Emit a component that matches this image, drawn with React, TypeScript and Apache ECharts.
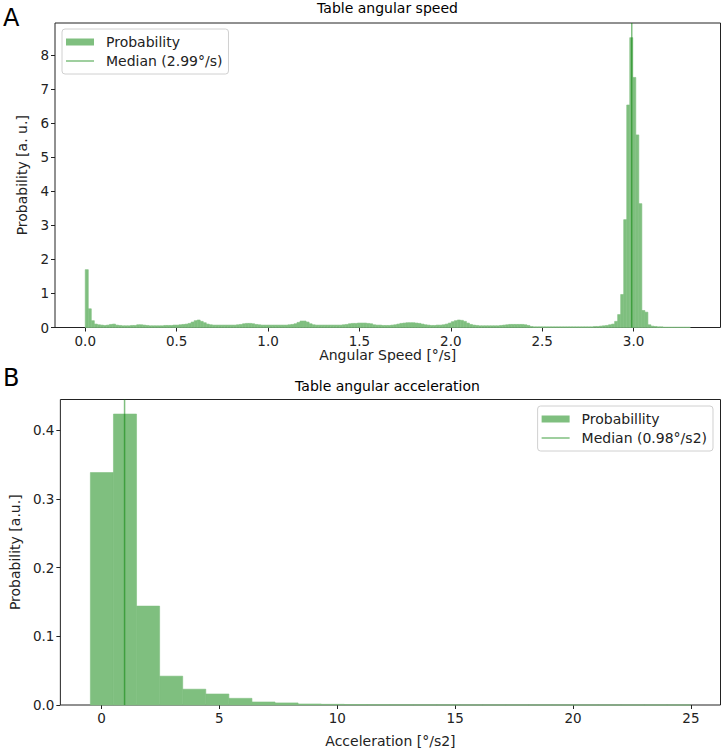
import React, { useEffect, useRef } from "react";
import * as echarts from "echarts";

// ---------- Data ----------
// Table angular speed histogram: 200 bins over [0, 3.31]
const speedRange = [0, 3.31];
const speedProb = [
  1.70, 0.55, 0.20, 0.10, 0.08, 0.07, 0.06, 0.07, 0.09, 0.10,
  0.07, 0.06, 0.05, 0.05, 0.05, 0.06, 0.06, 0.08, 0.08, 0.07,
  0.06, 0.05, 0.05, 0.05, 0.05, 0.05, 0.06, 0.06, 0.06, 0.07,
  0.07, 0.08, 0.09, 0.10, 0.12, 0.16, 0.20, 0.22, 0.18, 0.14,
  0.10, 0.08, 0.07, 0.07, 0.07, 0.07, 0.07, 0.07, 0.07, 0.07,
  0.08, 0.09, 0.11, 0.12, 0.12, 0.11, 0.09, 0.08, 0.07, 0.07,
  0.07, 0.07, 0.07, 0.07, 0.07, 0.07, 0.07, 0.08, 0.09, 0.11,
  0.15, 0.19, 0.19, 0.16, 0.11, 0.08, 0.07, 0.07, 0.07, 0.07,
  0.07, 0.07, 0.07, 0.07, 0.07, 0.08, 0.09, 0.11, 0.12, 0.12,
  0.13, 0.13, 0.13, 0.12, 0.11, 0.08, 0.07, 0.07, 0.06, 0.06,
  0.06, 0.07, 0.08, 0.10, 0.12, 0.13, 0.14, 0.14, 0.14, 0.13,
  0.12, 0.10, 0.08, 0.07, 0.06, 0.06, 0.07, 0.07, 0.08, 0.10,
  0.13, 0.17, 0.20, 0.22, 0.21, 0.18, 0.13, 0.09, 0.07, 0.06,
  0.05, 0.05, 0.05, 0.05, 0.05, 0.05, 0.05, 0.06, 0.07, 0.08,
  0.09, 0.09, 0.09, 0.09, 0.09, 0.08, 0.06, 0.03, 0.02, 0.02,
  0.02, 0.02, 0.02, 0.02, 0.02, 0.02, 0.02, 0.02, 0.02, 0.02,
  0.02, 0.02, 0.02, 0.02, 0.02, 0.02, 0.02, 0.02, 0.03, 0.03,
  0.04, 0.05, 0.06, 0.08, 0.10, 0.18, 0.38, 0.97, 3.17, 6.54,
  8.52, 7.35, 5.66, 3.64, 0.50, 0.45, 0.08, 0.04, 0.03, 0.02,
  0.02, 0.01, 0.01, 0.01, 0.01, 0.01, 0.01, 0.01, 0.01, 0.01,
];
const speedMedian = 2.99;
const speedXTicks = [0, 0.5, 1.0, 1.5, 2.0, 2.5, 3.0];
const speedYTicks = [0, 1, 2, 3, 4, 5, 6, 7, 8];

// Table angular acceleration histogram: 26 bins over [-0.47, 24.98]
const accelRange = [-0.47, 24.98];
const accelProb = [
  0.3385, 0.4237, 0.144, 0.042, 0.023, 0.016, 0.0097, 0.0044, 0.003, 0.0015,
  0.001, 0.0006, 0.0004, 0.0003, 0.0002, 0.0002, 0.0001, 0.0001, 0.0001, 0.0001,
  0.0001, 0.00005, 0.00005, 0.00005, 0.00005, 0.00005,
];
const accelMedian = 0.98;
const accelXTicks = [0, 5, 10, 15, 20, 25];
const accelYTicks = [0, 0.1, 0.2, 0.3, 0.4];

// ---------- Helpers ----------
const FONT = "DejaVu Sans";
const BAR = "#7fbf7f";
const LINE = "rgba(0,128,0,0.5)";
const INK = "#222";
const FS = 13.5;
const LFS = 14;

function toBins(range: number[], probs: number[]) {
  const w = (range[1] - range[0]) / probs.length;
  return probs.map((p, i) => [range[0] + i * w, range[0] + (i + 1) * w, p]);
}

function padded(range: number[]) {
  const m = (range[1] - range[0]) * 0.05;
  return [range[0] - m, range[1] + m];
}

const renderBar = (params: any, api: any) => {
  const s = api.coord([api.value(0), api.value(2)]);
  const e = api.coord([api.value(1), 0]);
  return {
    type: "rect",
    shape: { x: s[0], y: s[1], width: e[0] - s[0], height: e[1] - s[1] },
    style: { fill: BAR, stroke: BAR, lineWidth: 0.6 },
  };
};

export default function App() {
  const ref = useRef<HTMLDivElement>(null);

  useEffect(() => {
    if (!ref.current) return;
    const chart = echarts.init(ref.current, null, { renderer: "svg" });

    const speedX = padded(speedRange);
    const accelX = padded(accelRange);
    const speedYMax = 8.95;
    const accelYMax = Math.max(...accelProb) * 1.05;

    const axisCommon = (idx: number, ext: number[], ticks: number[], fmt: (v: number) => string, name: string, gap: number) => ({
      type: "value",
      gridIndex: idx,
      min: ext[0],
      max: ext[1],
      name,
      nameLocation: "middle",
      nameGap: gap,
      nameTextStyle: { fontFamily: FONT, fontSize: LFS, color: INK },
      axisLine: { show: false, onZero: false },
      splitLine: { show: false },
      axisTick: { show: true, length: 4, lineStyle: { color: INK }, customValues: ticks },
      axisLabel: {
        show: true,
        customValues: ticks,
        formatter: (v: number) => fmt(v),
        fontFamily: FONT,
        fontSize: FS,
        color: INK,
        margin: 6,
      },
    });

    const linePath = "path://M0,0L28,0L28,1.5L0,1.5Z";

    const legendCommon = {
      orient: "vertical",
      padding: [6, 6, 6, 4],
      itemGap: 5,
      itemWidth: 28,
      itemHeight: 7,
      borderColor: "#d0d0d0",
      borderWidth: 1,
      borderRadius: 3,
      backgroundColor: "rgba(255,255,255,0.8)",
      textStyle: { fontFamily: FONT, fontSize: LFS, color: INK, padding: [0, 0, 0, 7] },
    };

    const option: any = {
      animation: false,
      backgroundColor: "#fff",
      grid: [
        { left: 55, top: 23, width: 665.5, height: 304.5, show: true, borderColor: INK, borderWidth: 1, backgroundColor: "transparent" },
        { left: 55, top: 399.5, width: 665.5, height: 305.5, show: true, borderColor: INK, borderWidth: 1, backgroundColor: "transparent" },
      ],
      xAxis: [
        axisCommon(0, speedX, speedXTicks, (v) => v.toFixed(1), "Angular Speed [°/s]", 19),
        axisCommon(1, accelX, accelXTicks, (v) => String(Math.round(v)), "Acceleration [°/s2]", 29),
      ],
      yAxis: [
        axisCommon(0, [0, speedYMax], speedYTicks, (v) => String(Math.round(v)), "Probability [a. u.]", 26),
        axisCommon(1, [0, accelYMax], accelYTicks, (v) => v.toFixed(1), "Probability [a.u.]", 34),
      ],
      legend: [
        {
          ...legendCommon,
          left: 62,
          top: 29,
          data: [
            { name: "Probability", icon: "rect", itemStyle: { color: BAR } },
            { name: "Median (2.99°/s)", icon: linePath, itemStyle: { color: BAR } },
          ],
        },
        {
          ...legendCommon,
          right: 10,
          top: 406,
          data: [
            { name: "Probabillity", icon: "rect", itemStyle: { color: BAR } },
            { name: "Median (0.98°/s2)", icon: linePath, itemStyle: { color: BAR } },
          ],
        },
      ],
      graphic: [
        { type: "text", x: 387.5, y: 8, style: { text: "Table angular speed", font: `14px '${FONT}'`, fill: "#000", align: "center", verticalAlign: "middle" } },
        { type: "text", x: 387.5, y: 386, style: { text: "Table angular acceleration", font: `14px '${FONT}'`, fill: "#000", align: "center", verticalAlign: "middle" } },
        { type: "text", x: 3, y: 18, style: { text: "A", font: `24px '${FONT}'`, fill: "#000", align: "left", verticalAlign: "middle" } },
        { type: "text", x: 3, y: 378, style: { text: "B", font: `24px '${FONT}'`, fill: "#000", align: "left", verticalAlign: "middle" } },
      ],
      series: [
        {
          name: "Probability",
          type: "custom",
          xAxisIndex: 0,
          yAxisIndex: 0,
          renderItem: renderBar,
          encode: { x: [0, 1], y: 2 },
          itemStyle: { color: BAR },
          data: toBins(speedRange, speedProb),
          z: 2,
        },
        {
          name: "Median (2.99°/s)",
          type: "line",
          xAxisIndex: 0,
          yAxisIndex: 0,
          showSymbol: false,
          symbol: "none",
          clip: true,
          lineStyle: { color: LINE, width: 1.5 },
          itemStyle: { color: BAR },
          data: [[speedMedian, 0], [speedMedian, speedYMax]],
          z: 3,
        },
        {
          name: "Probabillity",
          type: "custom",
          xAxisIndex: 1,
          yAxisIndex: 1,
          renderItem: renderBar,
          encode: { x: [0, 1], y: 2 },
          itemStyle: { color: BAR },
          data: toBins(accelRange, accelProb),
          z: 2,
        },
        {
          name: "Median (0.98°/s2)",
          type: "line",
          xAxisIndex: 1,
          yAxisIndex: 1,
          showSymbol: false,
          symbol: "none",
          clip: true,
          lineStyle: { color: LINE, width: 1.5 },
          itemStyle: { color: BAR },
          data: [[accelMedian, 0], [accelMedian, accelYMax]],
          z: 3,
        },
      ],
    };

    chart.setOption(option);
    return () => chart.dispose();
  }, []);

  return (
    <div
      ref={ref}
      style={{ position: "fixed", left: 0, top: 0, width: 723, height: 749, background: "#fff" }}
    />
  );
}
